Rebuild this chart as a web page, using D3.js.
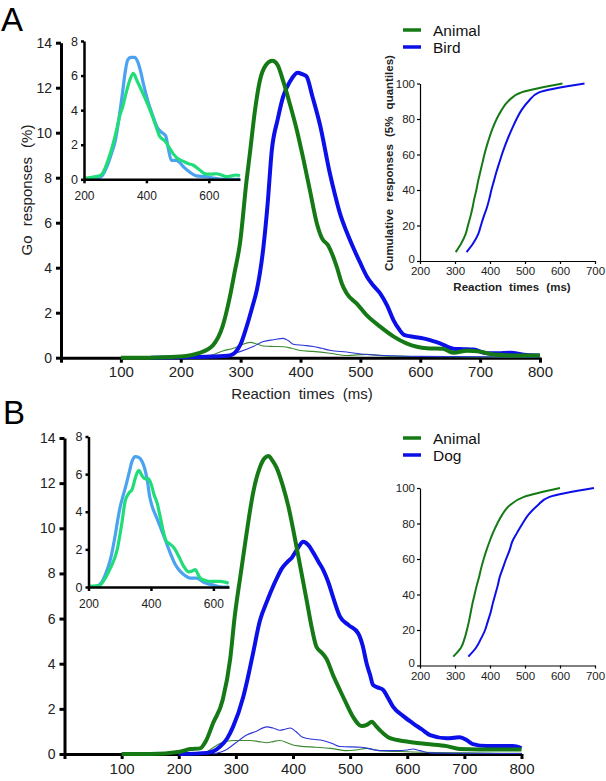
<!DOCTYPE html>
<html><head><meta charset="utf-8">
<script src="https://cdn.jsdelivr.net/npm/d3@7"></script>
<style>
body{margin:0;background:#fff;}
svg{display:block;font-family:Arial,"Liberation Sans",sans-serif;}
</style></head>
<body><svg id="c" width="606" height="781"></svg>
<script>
// ---------- DATA ----------
const mainTicksX = [100,200,300,400,500,600,700,800];
const mainTicksY = [0,2,4,6,8,10,12,14];
const insetTicksX = [200,400,600];
const insetTicksY = [0,2,4,6,8];
const cumTicksX = [200,300,400,500,600,700];
const cumTicksY = [0,20,40,60,80,100];
const quantiles = [5,10,15,20,25,30,35,40,45,50,55,60,65,70,75,80,85,90,95,100];

// Panel A: main Go response distributions [RT, %]
const A_animal = [[100,0],[150,0],[200,0.05],[230,0.2],[254,0.56],[270,1.4],[282,2.7],[290,3.8],[299,5.1],[310,7.9],[316,9.2],[324,11],[332,12.3],[342,13.0],[353,13.2],[362,13.0],[371,12.3],[382,11.3],[394,10.1],[405,8.8],[416,7.4],[427,6.0],[436,5.3],[446,5.0],[453,4.6],[461,4.0],[469,3.3],[477,2.86],[494,2.4],[510,1.9],[533,1.38],[555,0.95],[577,0.64],[611,0.42],[638,0.4],[655,0.22],[678,0.31],[700,0.27],[722,0.14],[755,0.1],[790,0.1],[800,0.1]];
const A_bird = [[150,0],[200,0.02],[250,0.05],[282,0.1],[300,0.6],[310,1.38],[320,2.3],[327,3.0],[338,4.9],[345,6.8],[352,9.2],[362,10.6],[371,11.6],[383,12.3],[395,12.67],[403,12.6],[410,12.5],[420,11.6],[433,10.3],[449,8.2],[458,7.2],[466,6.4],[477,5.6],[488,4.9],[500,4.2],[511,3.6],[522,3.2],[533,2.86],[545,2.3],[555,1.68],[565,1.25],[574,1.0],[590,0.92],[605,0.86],[620,0.75],[633,0.64],[655,0.4],[672,0.38],[689,0.36],[711,0.2],[730,0.2],[750,0.22],[778,0.12],[800,0.1]];
const A_animalThin = [[230,0],[254,0.13],[270,0.3],[288,0.42],[300,0.55],[316,0.68],[328,0.6],[338,0.52],[355,0.5],[371,0.49],[385,0.42],[399,0.32],[420,0.28],[449,0.2],[477,0.1],[511,0.15],[540,0.08],[600,0.05],[700,0.03],[800,0.02]];
const A_birdThin = [[250,0],[275,0.1],[299,0.27],[321,0.5],[338,0.72],[355,0.8],[371,0.86],[380,0.75],[388,0.6],[405,0.55],[421,0.5],[435,0.42],[449,0.33],[477,0.25],[505,0.15],[540,0.1],[600,0.06],[700,0.04],[800,0.02]];
// Panel A inset
const A_insetBlue = [[200,0],[230,0.05],[255,0.15],[275,0.8],[290,1.6],[300,2.2],[312,3.5],[322,4.8],[332,6.2],[340,6.9],[350,7.05],[362,7.05],[372,6.8],[382,6.2],[392,5.4],[405,4.5],[420,3.7],[435,3.0],[450,2.7],[462,2.5],[470,1.8],[480,1.1],[495,1.1],[505,1.0],[520,0.7],[540,0.4],[560,0.2],[590,0.15],[620,0.05],[650,0],[700,0]];
const A_insetGreen = [[200,0.05],[225,0.12],[250,0.2],[260,0.35],[275,1.0],[291,1.9],[305,2.9],[315,3.7],[324,4.2],[335,5.0],[348,5.8],[358,6.13],[370,5.7],[388,5.0],[405,4.3],[420,3.6],[432,3.0],[442,2.5],[460,2.2],[485,1.5],[500,1.2],[517,1.05],[535,0.9],[549,0.83],[570,0.55],[592,0.3],[610,0.3],[624,0.32],[640,0.25],[656,0.15],[672,0.2],[688,0.25],[700,0.2]];
// Panel A cumulative (RT at each 5% quantile)
const A_cumAnimal = [302,318,330,337,344,350,355,361,366,372,378,384,391,399,408,419,433,452,490,607];
const A_cumBird = [333,352,366,374,382,391,398,404,411,418,426,434,443,453,464,476,490,510,540,670];

// Panel B
const B_animal = [[100,0],[150,0],[202,0.1],[220,0.22],[237,0.25],[248,0.6],[260,1.36],[277,2.4],[290,4.2],[298,6.1],[308,7.9],[316,9.3],[323,10.5],[330,11.55],[342,12.7],[350,13.1],[357,13.2],[364,13.0],[371,12.7],[382,11.9],[392,10.96],[406,9.2],[415,8.0],[424,6.8],[432,5.7],[441,4.75],[450,4.5],[459,4.2],[470,3.5],[482,2.84],[494,2.2],[505,1.65],[520,1.24],[530,1.3],[538,1.43],[545,1.25],[552,1.06],[570,0.7],[599,0.55],[634,0.44],[669,0.35],[692,0.22],[727,0.2],[800,0.2]];
const B_dog = [[200,0],[250,0.05],[272,0.32],[285,0.7],[295,1.2],[313,2.54],[322,3.5],[330,4.46],[342,5.9],[355,6.8],[363,7.3],[372,7.8],[380,8.2],[390,8.5],[398,8.7],[408,9.1],[418,9.4],[427,9.25],[436,8.9],[445,8.5],[453,8.15],[462,7.6],[470,6.96],[482,6.1],[498,5.7],[514,5.35],[522,4.8],[529,4.0],[535,3.5],[540,3.06],[548,2.95],[558,2.84],[566,2.5],[575,2.1],[592,1.7],[610,1.36],[625,1.1],[640,0.84],[669,0.7],[682,0.72],[692,0.74],[705,0.6],[715,0.44],[739,0.35],[785,0.35],[800,0.25]];
const B_animalThin = [[235,0],[249,0.1],[272,0.47],[295,0.6],[325,0.6],[340,0.55],[354,0.5],[365,0.55],[377,0.6],[390,0.5],[400,0.4],[412,0.35],[440,0.3],[465,0.25],[494,0.15],[510,0.18],[529,0.25],[550,0.15],[600,0.1],[700,0.05],[800,0.03]];
const B_dogThin = [[260,0],[284,0.2],[300,0.5],[319,0.84],[335,1.0],[354,1.2],[365,1.15],[377,1.05],[386,1.1],[395,1.15],[405,1.0],[417,0.74],[435,0.65],[452,0.6],[470,0.45],[482,0.33],[520,0.3],[552,0.15],[580,0.15],[600,0.18],[610,0.22],[622,0.15],[640,0.05],[700,0.03],[800,0.02]];
const B_insetBlue = [[200,0],[225,0.05],[240,0.2],[255,0.7],[270,1.45],[285,2.7],[295,3.7],[302,4.3],[310,4.8],[320,5.4],[329,6.0],[340,6.7],[350,6.93],[360,6.9],[372,6.66],[380,6.3],[388,5.7],[396,4.8],[404,4.28],[418,3.7],[430,3.2],[446,2.5],[462,1.8],[478,1.2],[494,0.83],[510,0.6],[526,0.47],[547,0.47],[569,0.25],[600,0.1],[630,0],[650,0]];
const B_insetGreen = [[200,0.05],[225,0.05],[237,0.1],[255,0.5],[270,1.0],[283,1.5],[292,2.0],[305,3.2],[318,4.6],[330,5.0],[340,5.2],[350,5.8],[361,6.2],[372,5.9],[382,5.75],[392,5.75],[400,5.5],[410,4.9],[420,4.45],[430,3.7],[441,2.86],[450,2.4],[457,2.33],[473,2.1],[490,1.6],[505,1.1],[521,0.8],[532,0.85],[542,0.92],[550,0.7],[558,0.47],[575,0.35],[590,0.3],[622,0.3],[649,0.2]];
const B_cumAnimal = [295,317,327,334,340,345,350,356,362,369,375,382,390,399,409,421,435,455,497,600];
const B_cumDog = [338,360,374,386,394,402,408,415,422,428,437,446,456,464,478,493,510,535,570,697];

const legendA = ["Animal","Bird"];
const legendB = ["Animal","Dog"];

// ---------- STYLE ----------
const C = {green:"#157a15", blue:"#0b10e8", thinGreen:"#3c8a30", thinBlue:"#2a35d8", lBlue:"#4aa2f0", lGreen:"#20dd7a"};
const svg = d3.select("#c");

function styleAxis(g, w, fs){
  g.selectAll("path.domain").attr("stroke","#000").attr("stroke-width",w);
  g.selectAll(".tick line").attr("stroke","#000").attr("stroke-width",w);
  g.selectAll(".tick text").attr("font-size",fs).attr("fill","#222").attr("font-family","Arial,'Liberation Sans',sans-serif");
}
function line(x,y,curve){ return d3.line().x(d=>x(d[0])).y(d=>y(d[1])).curve(curve||d3.curveMonotoneX); }

function panel(o){
  // main
  const x = d3.scaleLinear().domain([0,800]).range(o.mx);
  const y = d3.scaleLinear().domain([0,14]).range(o.my);
  const gx = svg.append("g").attr("transform",`translate(0,${o.my[0]})`)
    .call(d3.axisBottom(x).tickValues([0].concat(mainTicksX)).tickFormat(d=>d===0?"":d).tickSize(5).tickSizeOuter(0).tickPadding(4));
  styleAxis(gx,3,"15px");
  const gy = svg.append("g").attr("transform",`translate(${o.mx[0]},0)`)
    .call(d3.axisLeft(y).tickValues(mainTicksY).tickSize(5).tickSizeOuter(0).tickPadding(4));
  styleAxis(gy,3,"14px");
  const L = line(x,y);
  svg.append("path").datum(o.thinG).attr("d",L).attr("fill","none").attr("stroke",C.thinGreen).attr("stroke-width",1.1);
  svg.append("path").datum(o.thinB).attr("d",L).attr("fill","none").attr("stroke",C.thinBlue).attr("stroke-width",1.1);
  svg.append("path").datum(o.blue).attr("d",L).attr("fill","none").attr("stroke",C.blue).attr("stroke-width",4).attr("stroke-linejoin","round");
  svg.append("path").datum(o.green).attr("d",L).attr("fill","none").attr("stroke",C.green).attr("stroke-width",4).attr("stroke-linejoin","round");

  // inset
  const ix = d3.scaleLinear().domain(o.ixd).range(o.ix);
  const iy = d3.scaleLinear().domain([0,8]).range(o.iy);
  const IL = line(ix,iy);
  svg.append("path").datum(o.iBlue).attr("d",IL).attr("fill","none").attr("stroke",C.lBlue).attr("stroke-width",3.2);
  svg.append("path").datum(o.iGreen).attr("d",IL).attr("fill","none").attr("stroke",C.lGreen).attr("stroke-width",3.2);
  const igx = svg.append("g").attr("transform",`translate(0,${o.iy[0]})`)
    .call(d3.axisBottom(ix).tickValues(insetTicksX).tickSize(4).tickSizeOuter(0).tickPadding(8));
  styleAxis(igx,2.5,"12px");
  const igy = svg.append("g").attr("transform",`translate(${o.ix[0]},0)`)
    .call(d3.axisLeft(iy).tickValues(insetTicksY).tickSize(3).tickSizeOuter(0).tickPadding(3));
  styleAxis(igy,2.5,"12.5px");

  // cumulative
  const cx = d3.scaleLinear().domain([200,700]).range(o.cx);
  const cy = d3.scaleLinear().domain([0,100]).range(o.cy);
  const cgx = svg.append("g").attr("transform",`translate(0,${o.cy[0]})`)
    .call(d3.axisBottom(cx).tickValues(cumTicksX).tickSize(3).tickSizeOuter(0).tickPadding(3));
  styleAxis(cgx,1.2,"11.5px");
  const cgy = svg.append("g").attr("transform",`translate(${o.cx[0]},0)`)
    .call(d3.axisLeft(cy).tickValues(cumTicksY).tickSize(3).tickSizeOuter(0).tickPadding(2));
  styleAxis(cgy,1.2,"11.5px");
  cgy.selectAll(".tick text").filter(d=>d===0).attr("dy","0.1em");
  const CL = d3.line().x(d=>cx(d[0])).y(d=>cy(d[1])).curve(d3.curveMonotoneY);
  svg.append("path").datum(o.cA.map((r,i)=>[r,quantiles[i]])).attr("d",CL).attr("fill","none").attr("stroke",C.green).attr("stroke-width",2);
  svg.append("path").datum(o.cB.map((r,i)=>[r,quantiles[i]])).attr("d",CL).attr("fill","none").attr("stroke",C.blue).attr("stroke-width",2);

  // legend
  o.legend.forEach((t,i)=>{
    const yy = o.legY + i*17;
    svg.append("line").attr("x1",403).attr("x2",421).attr("y1",yy).attr("y2",yy)
      .attr("stroke",i===0?C.green:C.blue).attr("stroke-width",3.5);
    svg.append("text").attr("x",433).attr("y",yy+5.5).attr("font-size","15.5px").attr("fill","#111").text(t);
  });
  // panel letter
  svg.append("text").attr("x",o.letter[0]).attr("y",o.letter[1]).attr("font-size","33px").attr("fill","#000").text(o.name);
}

panel({name:"A", letter:[1,31], mx:[61,540], my:[357.7,42.7], ix:[84,240], ixd:[200,700], iy:[179.3,41],
  cx:[420,595], cy:[261,83.5], legY:30, legend:legendA,
  green:A_animal, blue:A_bird, thinG:A_animalThin, thinB:A_birdThin, iBlue:A_insetBlue, iGreen:A_insetGreen,
  cA:A_cumAnimal, cB:A_cumBird});
panel({name:"B", letter:[3,424], mx:[64.5,521.5], my:[754,438], ix:[88.5,229], ixd:[200,650], iy:[587,436.5],
  cx:[420,595], cy:[665.5,488], legY:438, legend:legendB,
  green:B_animal, blue:B_dog, thinG:B_animalThin, thinB:B_dogThin, iBlue:B_insetBlue, iGreen:B_insetGreen,
  cA:B_cumAnimal, cB:B_cumDog});

// axis titles (panel A only)
svg.append("text").attr("x",302).attr("y",399).attr("text-anchor","middle").attr("font-size","15px")
  .attr("word-spacing","4px").attr("fill","#222").text("Reaction times (ms)");
svg.append("text").attr("transform","translate(32,190) rotate(-90)").attr("text-anchor","middle").attr("font-size","15px")
  .attr("word-spacing","5px").attr("fill","#222").text("Go responses (%)");
svg.append("text").attr("x",512).attr("y",291).attr("text-anchor","middle").attr("font-size","11.5px").attr("font-weight","bold")
  .attr("word-spacing","4px").attr("fill","#222").text("Reaction times (ms)");
svg.append("text").attr("transform","translate(393,163) rotate(-90)").attr("text-anchor","middle").attr("font-size","11.5px").attr("font-weight","bold")
  .attr("word-spacing","4px").attr("fill","#222").text("Cumulative responses (5% quantiles)");
</script></body></html>
